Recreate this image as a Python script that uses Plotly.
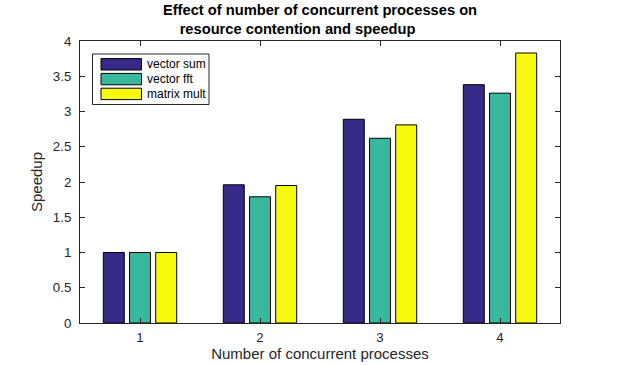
import plotly.graph_objects as go

categories = [1, 2, 3, 4]
series_names = ["vector sum", "vector fft", "matrix mult"]
vector_sum = [1.0, 1.96, 2.89, 3.38]
vector_fft = [1.0, 1.79, 2.62, 3.26]
matrix_mult = [1.0, 1.95, 2.81, 3.83]
colors = ["#352A87", "#38B99E", "#F8FA0D"]
y_ticks = [0, 0.5, 1, 1.5, 2, 2.5, 3, 3.5, 4]
y_tick_labels = ["0", "0.5", "1", "1.5", "2", "2.5", "3", "3.5", "4"]

FONT = "Liberation Sans, Arial, Helvetica, sans-serif"
AX = "#262626"

fig = go.Figure()
for name, vals, col in zip(series_names, [vector_sum, vector_fft, matrix_mult], colors):
    fig.add_trace(go.Bar(x=categories, y=vals, name=name, marker=dict(color=col, line=dict(color="black", width=1)),
                         showlegend=False))

W, H = 617, 365
ml, mr, mt, mb = 80, 57, 41, 42
pw, ph = W - ml - mr, H - mt - mb

def px(x):
    return (x - ml) / pw

def py(y):
    return 1 - (y - mt) / ph

shapes = [dict(type="rect", xref="paper", yref="paper", x0=px(92.5), x1=px(209), y0=py(54), y1=py(104.5),
               line=dict(color=AX, width=1), fillcolor="white", layer="above")]
annotations = []
for i, (name, col) in enumerate(zip(series_names, colors)):
    yc = 64.3 + i * 14.8
    shapes.append(dict(type="rect", xref="paper", yref="paper", x0=px(101), x1=px(141.5), y0=py(yc - 5.7), y1=py(yc + 5.7),
                       line=dict(color="black", width=1), fillcolor=col, layer="above"))
    annotations.append(dict(text=name, xref="paper", yref="paper", x=px(144.5), y=py(yc), xanchor="left", yanchor="middle",
                            showarrow=False, font=dict(family=FONT, size=12, color="black")))

title_text = "<b>Effect of number of concurrent processes on<br>resource contention and speedup" + "\u00a0" * 11 + "</b>"

fig.update_layout(
    width=W, height=H,
    margin=dict(l=ml, r=mr, t=mt, b=mb, autoexpand=False),
    paper_bgcolor="white", plot_bgcolor="white",
    barmode="group", bargap=0.345, bargroupgap=0.2,
    title=dict(text=title_text,
               x=0.5, xref="paper", xanchor="center", yref="container", y=1 - 15 / H, yanchor="middle",
               font=dict(family=FONT, size=14.7, color="black")),
    font=dict(family=FONT, color=AX),
    shapes=shapes, annotations=annotations,
)
fig.update_xaxes(range=[0.5, 4.5], tickvals=categories, ticktext=[str(c) for c in categories],
                 ticks="inside", ticklen=5, tickcolor=AX, showline=True, linecolor=AX, linewidth=1,
                 mirror="ticks", showgrid=False, zeroline=False, automargin=False,
                 tickfont=dict(family=FONT, size=13.3, color=AX), ticklabelstandoff=2,
                 title=dict(text="Number of concurrent processes", font=dict(family=FONT, size=15, color=AX), standoff=4))
fig.update_yaxes(range=[0, 4], tickvals=y_ticks, ticktext=y_tick_labels,
                 ticks="inside", ticklen=5, tickcolor=AX, showline=True, linecolor=AX, linewidth=1,
                 mirror="ticks", showgrid=False, zeroline=False, automargin=False,
                 tickfont=dict(family=FONT, size=13.3, color=AX), ticklabelstandoff=5,
                 title=dict(text="Speedup", font=dict(family=FONT, size=15, color=AX), standoff=6))

fig.write_html("out.html", config={"displayModeBar": False},
               post_script="document.body.style.margin='0';document.body.style.overflow='hidden';")
